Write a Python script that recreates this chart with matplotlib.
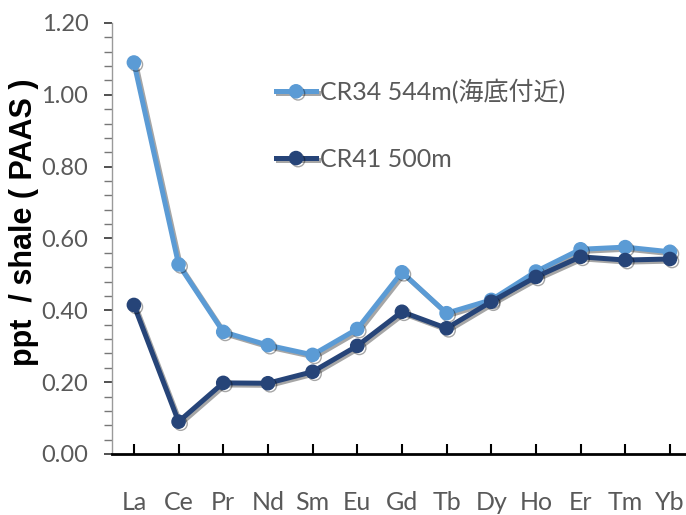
import matplotlib
matplotlib.use("Agg")
import matplotlib.pyplot as plt
import matplotlib.patheffects as pe
from matplotlib.ticker import MultipleLocator, FormatStrFormatter

elements = ["La", "Ce", "Pr", "Nd", "Sm", "Eu", "Gd", "Tb", "Dy", "Ho", "Er", "Tm", "Yb"]
cr34 = [1.09, 0.528, 0.34, 0.303, 0.276, 0.348, 0.506, 0.392, 0.429, 0.508, 0.570, 0.576, 0.563]
cr41 = [0.415, 0.09, 0.198, 0.197, 0.229, 0.301, 0.396, 0.350, 0.424, 0.493, 0.549, 0.540, 0.543]
label34 = "CR34 544m(海底付近)"
label41 = "CR41 500m"
ylabel = "ppt  / shale ( PAAS )"

fam = ["Lato", "Noto Sans CJK JP", "DejaVu Sans"]
plt.rcParams["font.family"] = fam

W, H = 686, 515
fig = plt.figure(figsize=(W / 100, H / 100), dpi=100)
ax = fig.add_axes([112 / W, 1 - 454 / H, (W - 112) / W, (454 - 23) / H])

x = list(range(len(elements)))
shadow = [pe.SimpleLineShadow(offset=(1.5, -1.5), shadow_color="black", alpha=0.35), pe.Normal()]
l1, = ax.plot(x, cr34, color="#5B9BD5", lw=3.6, marker="o", ms=9.5, label=label34,
              path_effects=shadow, zorder=3)
l2, = ax.plot(x, cr41, color="#264478", lw=3.6, marker="o", ms=9.5, label=label41,
              path_effects=shadow, zorder=4)

ax.set_ylim(0, 1.2)
ax.set_xlim(-0.49, 12.36)
ax.yaxis.set_major_locator(MultipleLocator(0.2))
ax.yaxis.set_minor_locator(MultipleLocator(0.04))
ax.yaxis.set_major_formatter(FormatStrFormatter("%.2f"))
ax.set_xticks(x)
ax.set_xticklabels(elements)

for s in ["top", "right"]:
    ax.spines[s].set_visible(False)
ax.spines["left"].set_color("#9a9a9a")
ax.spines["left"].set_linewidth(1.0)
ax.spines["bottom"].set_color("black")
ax.spines["bottom"].set_linewidth(2.0)

ax.tick_params(axis="y", which="major", direction="out", length=6, width=1.2, color="#333333",
               labelsize=17, labelcolor="#595959", pad=11)
ax.tick_params(axis="y", which="minor", direction="out", length=6, width=1.0, color="#777777")
ax.tick_params(axis="x", which="major", direction="in", length=7, width=1.5, color="black",
               labelsize=18, labelcolor="#595959", pad=27)

fig.text(24 / W, 1 - 222 / H, ylabel, rotation=90, ha="center", va="center",
         fontsize=22, fontweight="bold", family=["Liberation Sans", "DejaVu Sans"], color="black")

leg = ax.legend(handles=[l1, l2], loc="upper left", bbox_to_anchor=((276 - 112) / (W - 112), 1 - (79 - 23) / (454 - 23)),
                frameon=False, fontsize=18, labelspacing=1.75, handlelength=1.6, handletextpad=0.15,
                borderaxespad=0, borderpad=0, labelcolor="#595959")

fig.savefig("out.png", dpi=100)
